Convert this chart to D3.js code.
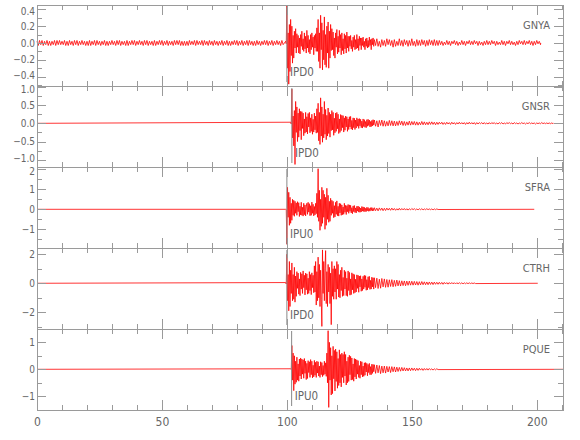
<!DOCTYPE html>
<html>
<head>
<meta charset="utf-8">
<script src="https://cdn.jsdelivr.net/npm/d3@7"></script>
<style>
  body { margin: 0; background: #fff; }
  svg { display: block; font-family: 'Liberation Sans Narrow', 'DejaVu Sans Condensed', sans-serif; }
</style>
</head>
<body>
<svg width="580" height="440"></svg>
<script>
// station order, top to bottom
const stations = ['GNYA', 'GNSR', 'SFRA', 'CTRH', 'PQUE'];
const phaseLabels = ['IPD0', 'IPD0', 'IPU0', 'IPD0', 'IPU0'];
const phaseTimes = [100, 102, 100, 100, 101.9];

// y ranges per panel (data min / max) and tick values
const yDomains = [[-0.512, 0.452], [-1.2, 1.025], [-1.935, 2.115], [-3.15, 2.43], [-1.507, 1.493]];
const yMajor = [[-0.4, -0.2, 0, 0.2, 0.4], [-1, -0.5, 0, 0.5, 1], [-1, 0, 1, 2], [-2, 0, 2], [-1, 0, 1]];
const yMinor = [[-0.5, -0.3, -0.1, 0.1, 0.3], [-0.75, -0.25, 0.25, 0.75], [-1.5, -0.5, 0.5, 1.5], [-3, -1, 1], [-1.5, -0.5, 0.5]];
const yFormats = ['.1f', '.1f', 'd', 'd', 'd'];

const xDomain = [0, 210.5];
const xMajor = [0, 50, 100, 150, 200];
const xMinor = [10, 20, 30, 40, 60, 70, 80, 90, 110, 120, 130, 140, 160, 170, 180, 190, 210];

// trace samples, amplitudes in hundredths of the panel unit
const traceEnds = [201.6, 206.7, 199, 200.4, 210.8];

const gnyaPre = [2,-3,3,-2,3,-3,2,-2,3,-3, 2,-3,2,-2,3,-3,3,-2,3,-2, 2,-2,3,-3,2,-3,3,-2,2,-3,
  3,-2,3,-3,2,-2,3,-2,2,-3, 2,-3,3,-3,2,-2,3,-3,3,-2, 2,-3,2,-2,3,-3,2,-3,2,-2,
  3,-2,2,-3,3,-2,3,-3,2,-2, 2,-3,3,-3,2,-2,3,-2,3,-3, 2,-2,3,-2,2,-3,3,-2,3,-3,
  2,-2,2,-3,3,-3,2,-2,3,-2, 3,-3,2,-2,3,-3,2,-2,2,-3, 3,-2,3,-2,3,-3,2,-3,2,-3,
  2,-3,3,-2,2,-2,3,-3,3,-2, 2,-2,3,-3,3,-2,2,-3,3,-2, 2,-3,3,-2,2,-3,2,-2,3,-3,
  2,-2,3,-3,2,-3,2,-2,3,-2, 3,-3,2,-2,3,-3,2,-2,3,-3, 3,-2,2,-3,2,-3,3,-2,2,-3,
  2,-2,3,-2,3,-3,2,-2,3,-3, 2,-2,3,-2,2,-3,3,-2];
const gnyaMain = [2,-1,
  44,-30,12,-49, 22,-34,28,-15, 20,-24,9,-18, 14,-6,17,-12,
  11,-5,9,-12,6,-13,10,-4, 14,-8,5,-10,12,-7,8,-12, 15,-6,9,-11,4,-13,10,-8, 12,-5,7,-14,9,-6,11,-10,
  18,-10,28,-22,12,-30,33,-8, 24,-32,15,-20,31,-26,10,-29, 20,-12,25,-30,14,-18,22,-9,
  17,-8,13,-15,6,-18,12,-5, 16,-13,8,-11,15,-6,10,-14, 12,-9,5,-13,11,-7,9,-12, 13,-6,8,-10,
  8,-4,9,-7,3,-10,7,-5, 9,-8,4,-7,10,-6,5,-9, 8,-3,6,-8,
  6,-3,7,-5,2,-8,5,-4, 6,-6,3,-5,7,-3,4,-8, 5,-2,6,-4];
const gnyaCoda = [4,-3,5,-4,2,-5,4,-3, 3,-4,5,-2,4,-3,3,-5, 4,-4,2,-3,5,-3,3,-4, 4,-2,3,-4,3,-3,5,-3,
  2,-4,4,-3,3,-3,4,-2, 3,-4,3,-3,4,-2,3,-3, 4,-3,3,-3];
const gnyaTail = [3,-2,2,-3,1,-2,3,-2,2,-3, 2,-1,3,-2,2,-3,1,-2,3,-2, 2,-3,2,-1,3,-2,2,-2,3,-1, 2,-3,2,-2,1,-3,2,-2,3,-2,
  2,-2,3,-1,2,-3,2,-2,1,-2, 3,-2,2,-3,2,-1,3,-2,2,-2, 1,-3,2,-2,3,-1,2,-2,3,-2, 2,-1,3,-2,2,-3,2,-2,3,-1, 2,-2];

const gnsrMain = [3,-2,
  94,-40,20,-62, 35,-113,60,-25, 45,-50,28,-38,40,-20,33,-45,
  32,-14,28,-34,12,-27,30,-24, 18,-29,27,-10,30,-26,15,-22, 25,-30,11,-24,28,-18,20,-27,
  40,-25,55,-48,30,-58,70,-35, 45,-52,25,-40,60,-30,38,-45, 22,-35,42,-28,30,-38,25,-20,
  35,-18,30,-33,14,-26,28,-22, 30,-15,25,-28,12,-25,24,-20, 22,-12,21,-24,15,-19,20,-10, 18,-22,12,-17,
  18,-10,19,-16,8,-18,15,-12, 14,-17,9,-13,15,-8,12,-14, 13,-7,11,-12,6,-13,12,-9, 10,-11,5,-12,10,-8,
  11,-6,9,-10,5,-9,8,-7,10,-5];
const gnsrCoda = [9,-8,7,-10,8,-6,9,-8, 7,-8,5,-7,8,-6,7,-7, 6,-7,5,-6,7,-4,6,-6, 5,-6,4,-5,6,-5,5,-4,
  5,-5,4,-5,3,-4,5,-4, 4,-4,3,-4,4,-3,4,-3, 3,-4,3,-3];
const gnsrTail = [3,-2,3,-3,2,-3,3,-2,2,-3, 3,-2,2,-3,2,-2,3,-2,2,-2, 2,-3,2,-2,3,-2,2,-2,2,-3, 2,-2,2,-1,2,-2,2,-2,1,-2,
  2,-2,2,-1,2,-2,1,-2,2,-1, 2,-2,1,-2,2,-1,2,-1,1,-2, 2,-1,1,-2,1,-1,2,-1,1,-2, 1,-1,2,-1,1,-1,1,-2,1,-1,
  1,-1,2,-1,1,-1,1,-1,1,-1, 1,-1];

const sfraMain = [0,-1,
  -175,110,-40,85, -80,60,-70,30, -55,50,-30,45, -35,40,-20,32,
  -30,38,-12,33,-36,15,-28,35, -30,10,-34,30,-27,22,-33,12, 30,-25,35,-14,28,-32,18,-30, 36,-20,25,-33,14,-28,30,-22,
  80,-40,203,-60,95,-105,50,-85, 110,-70,95,-40,75,-100,60,-80, 105,-50,70,-65,40,-60,55,-30,
  45,-20,40,-42,18,-38,35,-25, 42,-32,15,-34,30,-18,28,-30, 22,-27,12,-25,30,-15,20,-26, 18,-12,24,-20,
  22,-10,20,-18,8,-22,17,-12, 19,-16,7,-18,15,-9,16,-14, 12,-15,6,-13,14,-9,12,-11, 10,-12,5,-11,10,-7,
  9,-10,4,-9,8,-6,9,-8,5,-7];
const sfraCoda = [8,-7,6,-8,7,-5,6,-7, 5,-6,6,-4,5,-5,6,-4, 4,-5,3,-4,5,-4,4,-3, 4,-4,3,-4,3,-3,4,-2,
  3,-3,2,-3,3,-2,3,-3, 2,-2,3,-2,2,-2,2,-3, 2,-2,2,-1];

const ctrhMain = [5,-5,
  200,-120,60,-190, 150,-160,90,-70, 140,-120,60,-110, 110,-130,50,-90,
  80,-35,70,-75,30,-85,75,-40, 65,-70,85,-30,55,-80,70,-45, 65,-75,35,-70,80,-50,60,-78, 72,-30,55,-65,
  120,-60,150,-150,80,-120,180,-100, 130,-160,90,-110,-297,230,-70,150, -120,100,225,-140,80,-160,130,-60,
  110,-140,70,-285,150,-90,100,-110,
  120,-60,100,-110,150,-40,130,-95, 60,-100,90,-50,110,-90,40,-85,
  90,-40,80,-85,35,-90,85,-50, 75,-82,30,-78,72,-45,65,-70, 60,-65,28,-60,58,-35,55,-62, 50,-25,52,-55,30,-50,48,-40,
  55,-28,52,-48,25,-45,45,-30, 48,-42,20,-40,42,-25,38,-40];
const ctrhCoda = [38,-30,35,-36,28,-34,33,-25, 30,-28,26,-27,24,-22,25,-24, 20,-21,22,-18,18,-19,17,-16,
  16,-17,15,-14,15,-13,14,-13, 13,-12,12,-13,11,-11,12,-10, 10,-10,9,-10,9,-8,8,-9, 8,-7,7,-7];
const ctrhTail = [7,-6,6,-7,6,-5,5,-6,5,-5, 5,-4,4,-5,4,-4,4,-3,3,-4, 3,-3,3,-3,3,-2,2,-2,2,-2];

const pqueMain = [2,-1,
  88,-40,60,-79, 50,-55,30,-48, 45,-40,20,-44,38,-25,42,-36,
  38,-18,35,-33,40,-15,30,-38, 22,-34,32,-12,28,-30,36,-20, 30,-32,15,-28,33,-22,26,-30,
  30,-14,28,-25,12,-30,28,-20, 25,-27,14,-22,30,-18,24,-26,
  60,-50,143,-141,100,-40,80,-95, 50,-90,85,-35,70,-80,75,-45, 65,-70,40,-60,72,-50,55,-65,
  60,-30,55,-50,65,-25,55,-58, 30,-50,45,-45,52,-20,48,-40, 42,-38,20,-44,40,-28,38,-36,
  35,-18,32,-30,14,-33,30,-20, 28,-28,12,-26,24,-22,25,-10, 22,-24,18,-12,22,-20,10,-20, 19,-15,18,-9];
const pqueCoda = [17,-15,16,-13,14,-16,12,-13, 12,-14,11,-10,10,-12,10,-9, 9,-10,8,-8,7,-7,7,-6,
  6,-6,5,-6,5,-5,5,-4, 4,-5,4,-4,4,-3,3,-4, 3,-3,3,-3,3,-2,2,-3, 2,-2,2,-1];

const flatStart = [0];

// [start time (s), sample step (s), samples]
const segments = [
  [[0, 0.5, gnyaPre], [99.5, 0.25, gnyaMain], [135, 0.5, gnyaCoda], [161, 0.5, gnyaTail]],
  [[0, 1, flatStart], [101.5, 0.25, gnsrMain], [135, 0.5, gnsrCoda], [161, 0.5, gnsrTail]],
  [[0, 1, flatStart], [99.5, 0.25, sfraMain], [135, 0.5, sfraCoda]],
  [[0, 1, flatStart], [99.5, 0.25, ctrhMain], [135, 0.5, ctrhCoda], [161, 0.5, ctrhTail]],
  [[0, 1, flatStart], [101.5, 0.25, pqueMain], [135, 0.5, pqueCoda]]
];

// layout
const svg = d3.select('svg');
const plotLeft = 37, plotRight = 563, plotTop = 5, panelH = 81;
const axisCol = '#9a9a9a';
const textCol = '#666';

const x = d3.scaleLinear().domain(xDomain).range([plotLeft, plotRight]);

function buildPoints(i) {
  let pts = [];
  segments[i].forEach(s => {
    s[2].forEach((v, k) => pts.push([s[0] + k * s[1], v / 100]));
  });
  pts.push([traceEnds[i], 0]);
  return pts;
}

stations.forEach((name, i) => {
  let y0 = plotTop + i * panelH;
  let y = d3.scaleLinear().domain(yDomains[i]).range([y0 + panelH, y0]);

  let g = svg.append('g').attr('class', 'panel');

  // trace
  g.append('path')
    .datum(buildPoints(i))
    .attr('d', d3.line().x(d => x(d[0])).y(d => y(d[1])))
    .style('fill', 'none')
    .style('stroke', '#ff0000')
    .style('stroke-width', '0.8px');

  // phase pick
  let px = x(phaseTimes[i]);
  g.append('line')
    .attr('x1', px).attr('x2', px)
    .attr('y1', y0 + 2).attr('y2', y0 + panelH - 4)
    .style('stroke', '#888')
    .style('stroke-width', '1px');

  g.append('text')
    .text(phaseLabels[i])
    .attr('x', px + 3)
    .attr('y', y0 + panelH - 10)
    .style('fill', textCol)
    .style('font-size', '11.5px');

  g.append('text')
    .text(name)
    .attr('x', 550)
    .attr('y', y0 + 24)
    .style('text-anchor', 'end')
    .style('fill', textCol)
    .style('font-size', '11px');

  // axes, all ticks pointing inward
  let fmt = d3.format(yFormats[i]);
  let axes = [
    [d3.axisLeft(y).tickValues(yMajor[i]).tickSize(-9).tickPadding(2).tickFormat(fmt), plotLeft, 0],
    [d3.axisLeft(y).tickValues(yMinor[i]).tickSize(-5).tickFormat(''), plotLeft, 0],
    [d3.axisRight(y).tickValues(yMajor[i]).tickSize(-9).tickFormat(''), plotRight, 0],
    [d3.axisRight(y).tickValues(yMinor[i]).tickSize(-5).tickFormat(''), plotRight, 0],
    [d3.axisTop(x).tickValues(xMajor).tickSize(-10).tickFormat(''), 0, y0],
    [d3.axisTop(x).tickValues(xMinor).tickSize(-5).tickFormat(''), 0, y0],
    [d3.axisBottom(x).tickValues(xMajor).tickSize(-10).tickPadding(7.5)
       .tickFormat(i == stations.length - 1 ? d3.format('d') : ''), 0, y0 + panelH],
    [d3.axisBottom(x).tickValues(xMinor).tickSize(-5).tickFormat(''), 0, y0 + panelH]
  ];
  axes.forEach(a => {
    let ag = g.append('g')
      .attr('transform', `translate(${a[1]}, ${a[2]})`)
      .call(a[0].tickSizeOuter(0));
    ag.selectAll('path, line').style('stroke', axisCol).style('shape-rendering', 'crispEdges');
    ag.selectAll('text')
      .style('fill', textCol)
      .style('font-family', "'Liberation Sans Narrow', 'DejaVu Sans Condensed', sans-serif")
      .style('font-size', a[1] == plotLeft ? '10px' : '12px');
  });

  // labels sitting on a panel edge get nudged inward so neighbours do not collide
  g.selectAll('.tick text')
    .filter(d => yMajor[i].includes(d) && Math.abs(y(d) - y0) < 5)
    .attr('y', 2);
  g.selectAll('.tick text')
    .filter(d => yMajor[i].includes(d) && y0 + panelH - y(d) < 10 && y0 + panelH - y(d) > 0)
    .attr('y', -1);
});
</script>
</body>
</html>
